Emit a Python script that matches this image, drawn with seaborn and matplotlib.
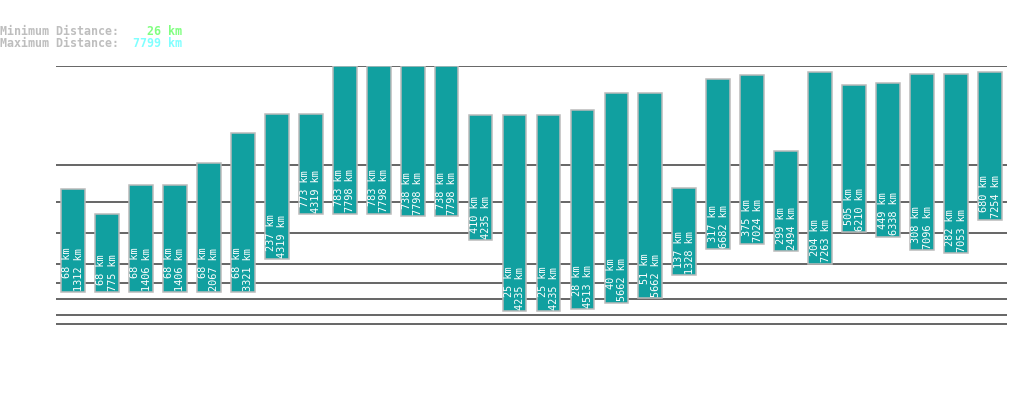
import numpy as np
import matplotlib
matplotlib.use("Agg")
import matplotlib.pyplot as plt
import seaborn as sns

# ---- data ----
routes = [f"R{i + 1}" for i in range(28)]
min_km = [68, 68, 68, 68, 68, 68, 237, 773, 783, 783, 738, 738, 410, 25,
          25, 28, 40, 51, 137, 317, 375, 299, 204, 505, 449, 308, 282, 680]
max_km = [1312, 775, 1406, 1406, 2067, 3321, 4319, 4319, 7798, 7798, 7798,
          7798, 4235, 4235, 4235, 4513, 5662, 5662, 1328, 6682, 7024, 2494,
          7263, 6210, 6338, 7096, 7053, 7254]
grid_km = [10, 20, 50, 100, 200, 500, 1000, 2000, 7799]
overall_min = 26
overall_max = 7799

span_km = [hi - lo for lo, hi in zip(min_km, max_km)]

sns.set_style("white")
plt.rcParams["font.family"] = ["DejaVu Sans Mono", "DejaVu Sans"]

W, H = 1019, 402
fig = plt.figure(figsize=(W / 100, H / 100), dpi=100)
ax = fig.add_axes([56 / W, (H - 367.5) / H, (1007 - 56) / W, (367.5 - 66.5) / H])

P = 0.295
ax.set_yscale("function",
              functions=(lambda v: np.sign(v) * np.abs(v) ** P,
                         lambda v: np.sign(v) * np.abs(v) ** (1 / P)))

sns.barplot(x=routes, y=span_km, bottom=min_km, order=routes, color="#11a0a0",
            saturation=1, width=0.7, edgecolor="#bbbbbb", linewidth=1.1,
            errorbar=None, ax=ax, zorder=3)

ax.set_ylim(0, overall_max)
ax.set_xlim(-0.5, len(routes) - 0.5)
ax.set_yticks(grid_km)
ax.yaxis.set_minor_locator(matplotlib.ticker.NullLocator())
ax.yaxis.grid(True, color="#3c3c3c", linewidth=1.1)
ax.xaxis.grid(False)
ax.set_axisbelow(True)
ax.tick_params(left=False, labelleft=False, bottom=False, labelbottom=False)
ax.set_xlabel("")
ax.set_ylabel("")
for s in ax.spines.values():
    s.set_visible(False)

for i, (lo, hi) in enumerate(zip(min_km, max_km)):
    ax.annotate(f"{lo} km\n{hi} km", xy=(i, lo), xytext=(0, 2.5),
                textcoords="offset pixels", rotation=90, ha="center",
                va="bottom", multialignment="right", color="white",
                fontsize=7.4, linespacing=1.15, zorder=5)

hdr = dict(fontsize=8.4, fontweight="bold", va="center")
fig.text(0, 1 - 31.7 / H, "Minimum Distance:", color="#bebebe", ha="left", **hdr)
fig.text(0, 1 - 43.3 / H, "Maximum Distance:", color="#bebebe", ha="left", **hdr)
fig.text(182 / W, 1 - 31.7 / H, f"{overall_min} km", color="#80ff80", ha="right", **hdr)
fig.text(182 / W, 1 - 43.3 / H, f"{overall_max} km", color="#80ffff", ha="right", **hdr)

fig.savefig("out.png", dpi=100, facecolor="white")
